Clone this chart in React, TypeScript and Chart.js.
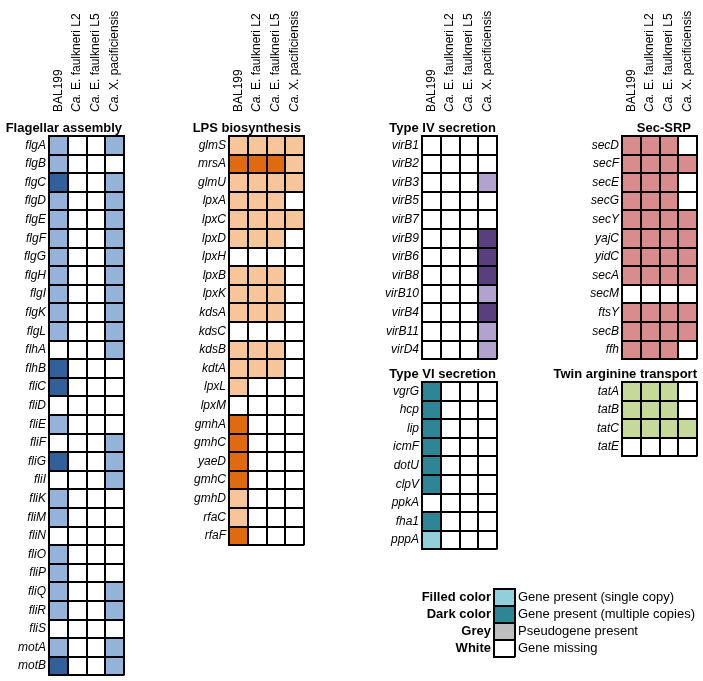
import React, { useEffect, useRef } from 'react';
import { Chart, registerables } from 'chart.js';

Chart.register(...registerables);

const FONT = "'Liberation Sans', Arial, Helvetica, sans-serif";

// Column (strain) labels
const strains = ['BAL199', 'Ca. E. faulkneri L2', 'Ca. E. faulkneri L5', 'Ca. X. pacificiensis'];

// 0 = gene missing, 1 = single copy, 2 = multiple copies, 3 = pseudogene
const flagellarGenes = ['flgA', 'flgB', 'flgC', 'flgD', 'flgE', 'flgF', 'flgG', 'flgH', 'flgI', 'flgK', 'flgL', 'flhA', 'flhB', 'fliC', 'fliD', 'fliE', 'fliF', 'fliG', 'fliI', 'fliK', 'fliM', 'fliN', 'fliO', 'fliP', 'fliQ', 'fliR', 'fliS', 'motA', 'motB'];
const flagellarValues = [
  [1, 0, 0, 1], [1, 0, 0, 0], [2, 0, 0, 1], [1, 0, 0, 1], [1, 0, 0, 1], [1, 0, 0, 1], [1, 0, 0, 1], [1, 0, 0, 1], [1, 0, 0, 1], [1, 0, 0, 1], [1, 0, 0, 1],
  [0, 0, 0, 1], [2, 0, 0, 0], [2, 0, 0, 0], [0, 0, 0, 0], [1, 0, 0, 0], [0, 0, 0, 1], [2, 0, 0, 1], [0, 0, 0, 1], [1, 0, 0, 0], [1, 0, 0, 0], [0, 0, 0, 0],
  [1, 0, 0, 0], [1, 0, 0, 0], [1, 0, 0, 1], [1, 0, 0, 1], [0, 0, 0, 0], [1, 0, 0, 1], [2, 0, 0, 1],
];

const lpsGenes = ['glmS', 'mrsA', 'glmU', 'lpxA', 'lpxC', 'lpxD', 'lpxH', 'lpxB', 'lpxK', 'kdsA', 'kdsC', 'kdsB', 'kdtA', 'lpxL', 'lpxM', 'gmhA', 'gmhC', 'yaeD', 'gmhC', 'gmhD', 'rfaC', 'rfaF'];
const lpsValues = [
  [1, 1, 1, 1], [2, 2, 2, 1], [1, 1, 1, 1], [1, 1, 1, 0], [1, 1, 1, 1], [1, 1, 1, 0], [0, 0, 0, 0], [1, 1, 1, 0], [1, 1, 1, 0], [1, 1, 1, 0], [0, 0, 0, 0],
  [1, 1, 1, 0], [1, 1, 1, 0], [1, 0, 0, 0], [0, 0, 0, 0], [2, 0, 0, 0], [2, 0, 0, 0], [2, 0, 0, 0], [2, 0, 0, 0], [1, 0, 0, 0], [1, 0, 0, 0], [2, 0, 0, 0],
];

const typeIVGenes = ['virB1', 'virB2', 'virB3', 'virB5', 'virB7', 'virB9', 'virB6', 'virB8', 'virB10', 'virB4', 'virB11', 'virD4'];
const typeIVValues = [
  [0, 0, 0, 0], [0, 0, 0, 0], [0, 0, 0, 1], [0, 0, 0, 0], [0, 0, 0, 0], [0, 0, 0, 2], [0, 0, 0, 2], [0, 0, 0, 2], [0, 0, 0, 1], [0, 0, 0, 2], [0, 0, 0, 1], [0, 0, 0, 1],
];

const typeVIGenes = ['vgrG', 'hcp', 'lip', 'icmF', 'dotU', 'clpV', 'ppkA', 'fha1', 'pppA'];
const typeVIValues = [
  [2, 0, 0, 0], [2, 0, 0, 0], [2, 0, 0, 0], [2, 0, 0, 0], [2, 0, 0, 0], [2, 0, 0, 0], [0, 0, 0, 0], [2, 0, 0, 0], [1, 0, 0, 0],
];

const secGenes = ['secD', 'secF', 'secE', 'secG', 'secY', 'yajC', 'yidC', 'secA', 'secM', 'ftsY', 'secB', 'ffh'];
const secValues = [
  [1, 1, 1, 0], [1, 1, 1, 1], [1, 1, 1, 0], [1, 1, 1, 0], [1, 1, 1, 1], [1, 1, 1, 1], [1, 1, 1, 1], [1, 1, 1, 1], [0, 0, 0, 0], [1, 1, 1, 1], [1, 1, 1, 1], [1, 1, 1, 0],
];

const tatGenes = ['tatA', 'tatB', 'tatC', 'tatE'];
const tatValues = [[1, 1, 1, 0], [1, 1, 1, 0], [1, 1, 1, 1], [0, 0, 0, 0]];

// Legend
const legendKeys = ['Filled color', 'Dark color', 'Grey', 'White'];
const legendTexts = ['Gene present (single copy)', 'Gene present (multiple copies)', 'Pseudogene present', 'Gene missing'];
const legendColors = ['#93cfdb', '#2d8596', '#bebebe', '#ffffff'];

// palettes: [missing, single, multiple, pseudogene]
const flagPalette = ['#ffffff', '#95b3d9', '#33609a', '#bebebe'];
const lpsPalette = ['#ffffff', '#f7c59a', '#e06a10', '#bebebe'];
const t4Palette = ['#ffffff', '#b2a2d0', '#5a3f7e', '#bebebe'];
const t6Palette = ['#ffffff', '#93cfdb', '#2d8596', '#bebebe'];
const secPalette = ['#ffffff', '#d98c8e', '#a04a50', '#bebebe'];
const tatPalette = ['#ffffff', '#c7d99a', '#6b8a30', '#bebebe'];

const CELL_W = 18.75;
const CELL_H = 18.6;
const Y_AXIS_W = 95;
const PAD_R = 12;

type PanelProps = {
  title: string;
  genes: string[];
  values: number[][];
  palette: string[];
  gridLeft: number;
  gridTop: number;
  showHeader: boolean;
  titleDx: number;
};

function Panel({ title, genes, values, palette, gridLeft, gridTop, showHeader, titleDx }: PanelProps) {
  const ref = useRef<HTMLCanvasElement | null>(null);
  const headerH = showHeader ? gridTop : 24;
  const width = Y_AXIS_W + strains.length * CELL_W + PAD_R;
  const height = Math.round(headerH + genes.length * CELL_H + 12);
  const padB = height - headerH - genes.length * CELL_H;

  useEffect(() => {
    if (!ref.current) return;
    const headerPlugin = {
      id: 'panelHeader',
      afterDraw(chart: any) {
        const { ctx, chartArea } = chart;
        const xs = chart.scales.x;
        ctx.save();
        ctx.fillStyle = '#000';
        ctx.font = `bold 13px ${FONT}`;
        ctx.textAlign = 'right';
        ctx.textBaseline = 'alphabetic';
        ctx.fillText(title, chartArea.right + titleDx, chartArea.top - 4);
        if (showHeader) {
          strains.forEach((s, i) => {
            const x = xs.getPixelForValue(i + 0.5);
            ctx.save();
            ctx.translate(x, chartArea.top - 24);
            ctx.rotate(-Math.PI / 2);
            ctx.textAlign = 'left';
            ctx.textBaseline = 'middle';
            if (s.startsWith('Ca. ')) {
              ctx.font = `italic 12px ${FONT}`;
              ctx.fillText('Ca.', 0, 0);
              const w = ctx.measureText('Ca.').width;
              ctx.font = `12px ${FONT}`;
              ctx.fillText(s.slice(3), w, 0);
            } else {
              ctx.font = `12px ${FONT}`;
              ctx.fillText(s, 0, 0);
            }
            ctx.restore();
          });
        }
        ctx.restore();
      },
    };
    const chart = new Chart(ref.current, {
      type: 'bar',
      data: {
        labels: genes,
        datasets: strains.map((s, i) => ({
          label: s,
          data: genes.map(() => 1),
          backgroundColor: values.map((r) => palette[r[i]]),
          borderWidth: 0,
          barPercentage: 1,
          categoryPercentage: 1,
          stack: 'cells',
        })),
      },
      options: {
        indexAxis: 'y',
        animation: false,
        responsive: false,
        maintainAspectRatio: false,
        events: [],
        layout: { padding: { left: 0, top: 0, right: PAD_R, bottom: padB } },
        plugins: { legend: { display: false }, tooltip: { enabled: false }, title: { display: false } },
        scales: {
          x: {
            type: 'linear',
            position: 'top',
            stacked: true,
            min: 0,
            max: strains.length,
            ticks: { display: false, stepSize: 1 },
            grid: { color: '#000', lineWidth: 2, drawTicks: false, z: 1 },
            border: { display: true, color: '#000', width: 2, z: 1 },
            afterFit: (s: any) => { s.height = headerH; },
          },
          y: {
            type: 'category',
            stacked: true,
            grid: { offset: true, color: '#000', lineWidth: 2, drawTicks: false, z: 1 },
            border: { display: true, color: '#000', width: 2, z: 1 },
            ticks: { autoSkip: false, color: '#000', padding: 3, font: { family: FONT, size: 12, style: 'italic' } },
            afterFit: (s: any) => { s.width = Y_AXIS_W; },
          },
        },
      } as any,
      plugins: [headerPlugin],
    });
    return () => chart.destroy();
  }, []);

  return (
    <canvas
      ref={ref}
      width={width}
      height={height}
      style={{ position: 'absolute', left: gridLeft - Y_AXIS_W, top: gridTop - headerH, width, height }}
    />
  );
}

function LegendChart() {
  const ref = useRef<HTMLCanvasElement | null>(null);
  const leftW = 90;
  const rightW = 200;
  const swatchW = 21;
  const rowH = 18.6;
  const gridLeft = 494;
  const gridTop = 584;
  const topH = 6;
  const width = leftW + swatchW + rightW;
  const height = Math.round(topH + legendKeys.length * rowH + 10);
  const padB = height - topH - legendKeys.length * rowH;

  useEffect(() => {
    if (!ref.current) return;
    const chart = new Chart(ref.current, {
      type: 'bar',
      data: {
        labels: legendKeys,
        datasets: [{
          label: 'legend',
          data: legendKeys.map(() => 1),
          backgroundColor: legendColors,
          borderWidth: 0,
          barPercentage: 1,
          categoryPercentage: 1,
        }],
      },
      options: {
        indexAxis: 'y',
        animation: false,
        responsive: false,
        maintainAspectRatio: false,
        events: [],
        layout: { padding: { left: 0, top: 0, right: 0, bottom: padB } },
        plugins: { legend: { display: false }, tooltip: { enabled: false } },
        scales: {
          x: {
            type: 'linear', position: 'top', min: 0, max: 1,
            ticks: { display: false, stepSize: 1 },
            grid: { color: '#000', lineWidth: 2, drawTicks: false, z: 1 },
            border: { display: true, color: '#000', width: 2, z: 1 },
            afterFit: (s: any) => { s.height = topH; },
          },
          y: {
            type: 'category', position: 'left',
            grid: { offset: true, color: '#000', lineWidth: 2, drawTicks: false, z: 1 },
            border: { display: true, color: '#000', width: 2, z: 1 },
            ticks: { autoSkip: false, color: '#000', padding: 3, font: { family: FONT, size: 13, weight: 'bold' } },
            afterFit: (s: any) => { s.width = leftW; },
          },
          y2: {
            type: 'category', position: 'right', labels: legendTexts, offset: true,
            grid: { display: false, drawTicks: false },
            border: { display: false },
            ticks: { autoSkip: false, color: '#000', padding: 3, font: { family: FONT, size: 13 } },
            afterFit: (s: any) => { s.width = rightW; },
          },
        },
      } as any,
    });
    return () => chart.destroy();
  }, []);

  return (
    <canvas
      ref={ref}
      width={width}
      height={height}
      style={{ position: 'absolute', left: gridLeft - leftW, top: gridTop - topH, width, height }}
    />
  );
}

export default function App() {
  return (
    <div style={{ position: 'absolute', left: 0, top: 0, width: 703, height: 681, overflow: 'hidden', background: '#fff' }}>
      <Panel title="Flagellar assembly" genes={flagellarGenes} values={flagellarValues} palette={flagPalette} gridLeft={49} gridTop={136} showHeader titleDx={-2} />
      <Panel title="LPS biosynthesis" genes={lpsGenes} values={lpsValues} palette={lpsPalette} gridLeft={229} gridTop={136} showHeader titleDx={-3} />
      <Panel title="Type IV secretion" genes={typeIVGenes} values={typeIVValues} palette={t4Palette} gridLeft={422} gridTop={136} showHeader titleDx={-1} />
      <Panel title="Type VI secretion" genes={typeVIGenes} values={typeVIValues} palette={t6Palette} gridLeft={422} gridTop={382} showHeader={false} titleDx={-1} />
      <Panel title="Sec-SRP" genes={secGenes} values={secValues} palette={secPalette} gridLeft={622} gridTop={136} showHeader titleDx={-6} />
      <Panel title="Twin arginine transport" genes={tatGenes} values={tatValues} palette={tatPalette} gridLeft={622} gridTop={382} showHeader={false} titleDx={0} />
      <LegendChart />
    </div>
  );
}
